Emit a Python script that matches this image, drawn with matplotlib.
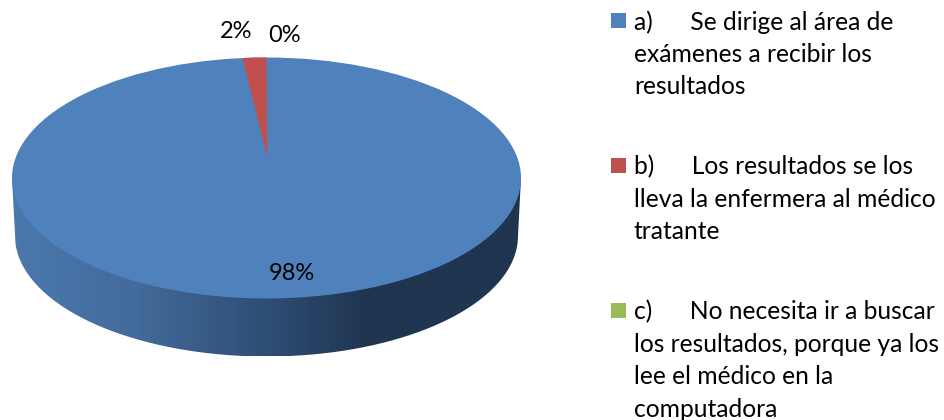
# -*- coding: utf-8 -*-
"""3D-style pie chart with a wrapped legend on the right."""
import matplotlib
matplotlib.use("Agg")
import matplotlib.pyplot as plt
import numpy as np
from matplotlib.colors import LinearSegmentedColormap
from matplotlib.patches import Ellipse, PathPatch, Polygon, Rectangle
from matplotlib.path import Path

plt.rcParams['font.family'] = ['Lato', 'DejaVu Sans']

shares = [98.5, 1.5, 0.0]
colors = ['#4f81bd', '#c0504d', '#9bbb59']
legend_lines = [
    ["a)      Se dirige al área de", "exámenes a recibir los", "resultados"],
    ["b)      Los resultados se los", "lleva la enfermera al médico", "tratante"],
    ["c)      No necesita ir a buscar", "los resultados, porque ya los", "lee el médico en la", "computadora"],
]

# Pie geometry in image pixels
cx, cy = 266.5, 178
rx, ry = 254.5, 120.5
depth = 58
pivot_y = 158

fig = plt.figure(figsize=(9.45, 4.2), dpi=100)
ax = fig.add_axes([0, 0, 1, 1])

# Side wall, shaded left to right
wall = np.linspace(np.pi, 0, 300)
side_low = np.column_stack([cx + (rx - 3) * np.cos(wall), cy + depth + ry * np.sin(wall)])
verts = np.vstack([[cx - rx, cy], side_low, [cx + rx, cy], [cx - rx, cy]])
side_path = Path(verts)

shade = LinearSegmentedColormap.from_list(
    "side",
    [(0.0, '#4b78ad'), (0.24, '#436b9b'), (0.49, '#2f4f76'), (0.70, '#1f3550'), (1.0, '#1f3550')],
)
img = ax.imshow(np.linspace(0, 1, 512).reshape(1, -1), cmap=shade, aspect='auto',
                extent=[cx - rx, cx + rx, cy + depth + ry, cy - ry], zorder=1)
clip = PathPatch(side_path, transform=ax.transData, facecolor='none', edgecolor='none')
ax.add_patch(clip)
img.set_clip_path(clip)

# Top face
ax.add_patch(Ellipse((cx, cy), 2 * rx, 2 * ry, facecolor=colors[0], edgecolor='none', zorder=2))

# Slices after the first, clockwise from twelve o'clock
start = shares[0]
for share, color in zip(shares[1:], colors[1:]):
    if share > 0:
        angles = np.radians(np.linspace(start, start + share, 20) * 3.6)
        rim = np.column_stack([cx + rx * np.sin(angles), cy - ry * np.cos(angles)])
        ax.add_patch(Polygon(np.vstack([[cx + 1, pivot_y], rim]), facecolor=color,
                             edgecolor='none', zorder=3))
    start += share

# Data labels
label_pos = [(292, 274), (236.5, 32), (285, 35)]
for share, (x, y) in zip(shares, label_pos):
    ax.text(x, y, f"{share:.0f}%", ha='center', va='center', fontsize=17, color='black', zorder=4)

# Legend
swatch_y = [21, 166, 311]
for color, lines, y0 in zip(colors, legend_lines, swatch_y):
    ax.add_patch(Rectangle((611, y0 - 8), 15, 15, facecolor=color, edgecolor='none'))
    for i, line in enumerate(lines):
        ax.text(634, y0 + 1 + i * 32.4, line, ha='left', va='center', fontsize=17.7, color='black')

ax.set_xlim(0, 945)
ax.set_ylim(420, 0)
ax.axis('off')

fig.savefig("out.png", dpi=100)
